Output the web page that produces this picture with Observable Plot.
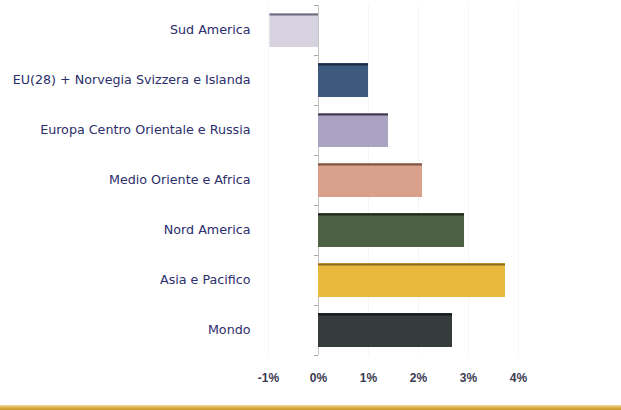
<!DOCTYPE html>
<html>
<head>
<meta charset="utf-8">
<script src="https://cdn.jsdelivr.net/npm/d3@7"></script>
<script src="https://cdn.jsdelivr.net/npm/@observablehq/plot@0.6"></script>
<style>
  html, body { margin: 0; padding: 0; background: #fff; }
  #chart { width: 621px; height: 410px; overflow: hidden; }
  #bar { height: 5px; width: 621px; background: linear-gradient(to bottom, #f3dc9a 0%, #d6a93c 60%, #c9982c 100%); }
</style>
</head>
<body>
<div id="chart"></div>
<script>
const categories = [
  "Sud America",
  "EU(28) + Norvegia Svizzera e Islanda",
  "Europa Centro Orientale e Russia",
  "Medio Oriente e Africa",
  "Nord America",
  "Asia e Pacifico",
  "Mondo"
];
const values = [-0.97, 1.0, 1.4, 2.08, 2.92, 3.74, 2.68];
const colors = ["#d6d2e0", "#3d5a7e", "#aaa4c2", "#d9a08b", "#4c6142", "#e8b93c", "#363b3b"];
const edgeColors = ["#6e6a7c", "#1c2c40", "#3e3a4c", "#7a5648", "#1f2a1c", "#8a6a1e", "#151818"];
const xTicks = [-1, 0, 1, 2, 3, 4];

const data = categories.map((c, i) => ({cat: c, value: values[i], color: colors[i], edge: edgeColors[i]}));

const plot = Plot.plot({
  width: 621,
  height: 405,
  marginLeft: 268,
  marginRight: 103,
  marginTop: 5,
  marginBottom: 50,
  style: {fontFamily: "'DejaVu Sans', 'Liberation Sans', Arial, sans-serif", background: "#fff"},
  x: {domain: [-1, 4], ticks: xTicks, tickFormat: d => d + "%", label: null},
  y: {domain: categories, paddingInner: 0.32, paddingOuter: 0.16, label: null},
  color: {type: "identity"},
  marks: [
    Plot.gridX(xTicks, {stroke: "#000", strokeOpacity: 0.035}),
    Plot.ruleX([0], {stroke: "#c4c4c4"}),
    Plot.ruleY(categories, {y: d => d, x1: -0.08, x2: 0, dy: -25, stroke: "#aaa"}),
    Plot.ruleY(categories.slice(-1), {y: d => d, x1: -0.08, x2: 0, dy: 25, stroke: "#aaa"}),
    Plot.barX(data, {y: "cat", x: "value", fill: "color"}),
    Plot.ruleY(data, {y: "cat", x1: 0, x2: "value", dy: -16, stroke: "edge", strokeWidth: 2}),
    Plot.axisY({tickSize: 0, tickPadding: 18, fontSize: 12.7, dy: -1, color: "#2b2e6b"}),
    Plot.axisX({ticks: xTicks, tickFormat: d => d + "%", tickSize: 0, tickPadding: 18, fontSize: 12, fontWeight: "bold", fontFamily: "'Liberation Sans', Arial, sans-serif", color: "#3a3a50"})
  ]
});
document.getElementById("chart").appendChild(plot);
const strip = document.createElement("div");
strip.id = "bar";
document.getElementById("chart").appendChild(strip);
</script>
</body>
</html>
